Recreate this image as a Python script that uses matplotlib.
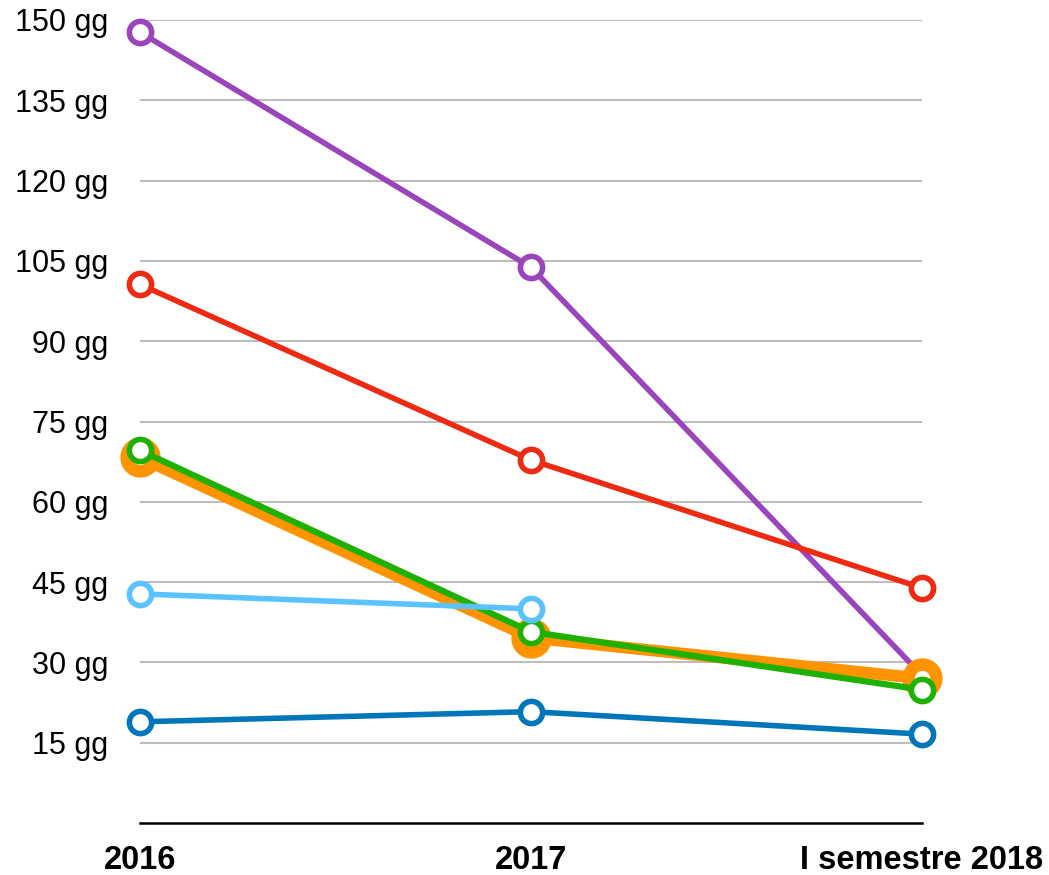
import matplotlib.pyplot as plt

plt.rcParams['font.family'] = ['Liberation Sans', 'DejaVu Sans']

periods = ["2016", "2017", "I semestre 2018"]
yticks = [15, 30, 45, 60, 75, 90, 105, 120, 135, 150]

purple = [147.7, 103.8, 27.6]
red = [100.6, 67.8, 43.9]
orange = [68.3, 34.6, 27.0]
green = [69.6, 35.7, 24.9]
light_blue = [42.8, 40.0]
blue = [18.9, 20.8, 16.6]


def draw_series(ax, values, color, lw=4.0, ms=16, mew=4.0, z=3):
    x = list(range(len(values)))
    ax.plot(x, values, color=color, lw=lw, marker="o", ms=ms,
            mfc="white", mec=color, mew=mew, zorder=z, clip_on=False,
            solid_capstyle="round")


fig = plt.figure(figsize=(10.49, 8.75), dpi=100)
ax = fig.add_axes([140 / 1049, 1 - 823 / 875, 782 / 1049, 803 / 875])

draw_series(ax, purple, "#9B45BC", z=3)
draw_series(ax, red, "#EE2A12", z=4)
draw_series(ax, orange, "#FF9300", lw=8.5, ms=20, mew=9, z=5)
draw_series(ax, green, "#1EB100", lw=4.5, z=6)
draw_series(ax, light_blue, "#5AC3FF", z=7)
draw_series(ax, blue, "#0076BA", z=8)

ax.set_xlim(0, 2)
ax.set_ylim(0, 150)
ax.set_yticks(yticks)
ax.set_yticklabels([f"{v} gg" for v in yticks], fontsize=22)
ax.set_xticks(range(3))
ax.set_xticklabels(periods, fontsize=23.5, fontweight="bold")
ax.tick_params(axis="y", length=0, pad=23)
ax.tick_params(axis="x", length=0, pad=16)

ax.grid(axis="y", color="#BDBDBD", lw=1.5, zorder=1)
for side in ["top", "right", "left"]:
    ax.spines[side].set_visible(False)
ax.spines["bottom"].set_linewidth(1.8)
ax.spines["bottom"].set_color("black")

fig.savefig("out.png", dpi=100)
